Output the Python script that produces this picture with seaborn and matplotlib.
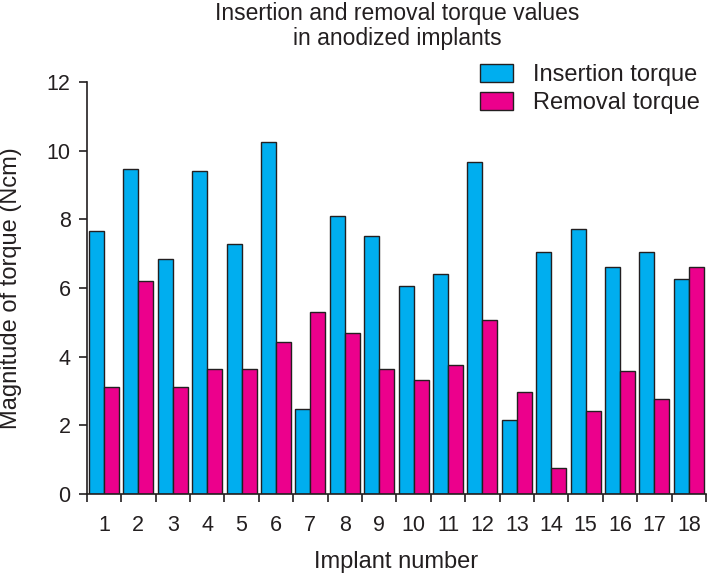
import matplotlib
matplotlib.use("Agg")
import matplotlib.pyplot as plt
import seaborn as sns
import pandas as pd
import numpy as np
from matplotlib.patches import Patch

implants = [str(i) for i in range(1, 19)]
insertion = [7.66, 9.48, 6.84, 9.42, 7.28, 10.27, 2.47, 8.09, 7.51,
             6.07, 6.42, 9.68, 2.15, 7.05, 7.73, 6.61, 7.05, 6.26]
removal = [3.12, 6.20, 3.12, 3.63, 3.63, 4.44, 5.29, 4.68, 3.63,
           3.32, 3.75, 5.07, 2.97, 0.77, 2.43, 3.59, 2.77, 6.61]
series_names = ["Insertion torque", "Removal torque"]
colors = ["#00AEEF", "#EC008C"]
ink = "#231F20"

df = pd.DataFrame({
    "Implant": implants * 2,
    "Torque": insertion + removal,
    "Series": [series_names[0]] * 18 + [series_names[1]] * 18,
})

sns.set_style("ticks")
plt.rcParams["font.family"] = ["Liberation Sans", "DejaVu Sans"]

fig = plt.figure(figsize=(7.09, 5.75), dpi=100)
ax = fig.add_axes([0.1223, 0.1409, 0.8735, 0.7161])

sns.barplot(data=df, x="Implant", y="Torque", hue="Series", order=implants,
            hue_order=series_names, palette=colors, width=0.87,
            edgecolor=ink, linewidth=1.0, saturation=1, ax=ax,
            legend=False)

ax.set_xlim(-0.5, 17.5)
ax.set_ylim(0, 12)
ax.set_yticks(range(0, 13, 2))
ax.set_xticks(np.arange(-0.5, 18, 1), minor=True)
ax.tick_params(axis="x", which="major", length=0, labelsize=15.5, pad=15, labelcolor=ink)
ax.tick_params(axis="x", which="minor", length=6, width=1.2, color=ink)
ax.tick_params(axis="y", length=6, width=1.2, labelsize=15.5, pad=5.5, color=ink, labelcolor=ink)
for s in ["top", "right"]:
    ax.spines[s].set_visible(False)
for s in ["left", "bottom"]:
    ax.spines[s].set_linewidth(1.2)
    ax.spines[s].set_color(ink)

ax.set_xlabel("Implant number", fontsize=17, color=ink, labelpad=11)
ax.set_ylabel("Magnitude of torque (Ncm)", fontsize=17, color=ink)
ax.yaxis.set_label_coords(-0.105, 0.5)

fig.text(0.5606, 0.997, "Insertion and removal torque values\nin anodized implants",
         ha="center", va="top", fontsize=16.5, color=ink, linespacing=1.12)

handles = [Patch(facecolor=c, edgecolor=ink, linewidth=1.0) for c in colors]
fig.legend(handles, series_names, loc="upper left", bbox_to_anchor=(0.677, 0.889),
           frameon=False, fontsize=17, handlelength=1.4, handleheight=0.8,
           handletextpad=0.85, labelspacing=0.25, borderaxespad=0, borderpad=0,
           labelcolor=ink)

fig.savefig("out.png", dpi=100)
